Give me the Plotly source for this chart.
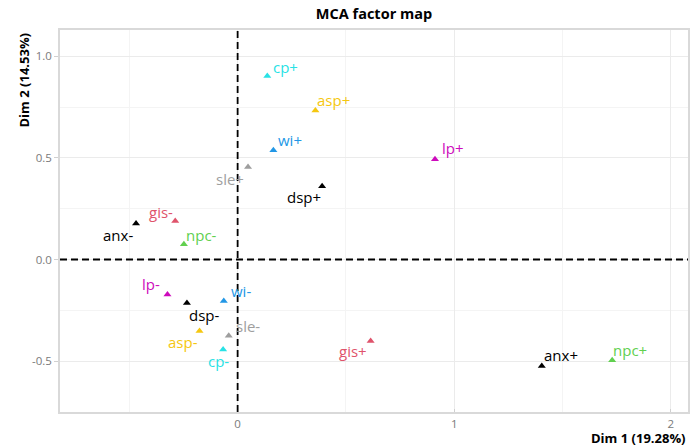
import plotly.graph_objects as go

# ---- data ----
categories = ["anx-", "anx+", "gis-", "gis+", "npc-", "npc+", "wi-", "wi+",
              "cp-", "cp+", "lp-", "lp+", "asp-", "asp+", "sle-", "sle+",
              "dsp-", "dsp+"]
dim1 = [-0.469, 1.404, -0.288, 0.614, -0.248, 1.729, -0.064, 0.165,
        -0.067, 0.137, -0.324, 0.911, -0.176, 0.359, -0.041, 0.048,
        -0.234, 0.390]
dim2 = [0.177, -0.524, 0.189, -0.401, 0.075, -0.496, -0.205, 0.538,
        -0.443, 0.903, -0.172, 0.494, -0.352, 0.734, -0.376, 0.456,
        -0.214, 0.361]
variables = ["anx", "anx", "gis", "gis", "npc", "npc", "wi", "wi",
             "cp", "cp", "lp", "lp", "asp", "asp", "sle", "sle",
             "dsp", "dsp"]
x_ticks = [0, 1, 2]
x_tick_labels = ["0", "1", "2"]
y_ticks = [-0.5, 0.0, 0.5, 1.0]
y_tick_labels = ["-0.5", "0.0", "0.5", "1.0"]
title = "MCA factor map"
x_title = "Dim 1 (19.28%)"
y_title = "Dim 2 (14.53%)"

# ---- styles ----
var_colors = {
    "anx": "#000000", "gis": "#DF536B", "npc": "#61D04F", "wi": "#2297E6",
    "cp": "#28E2E5", "lp": "#CD0BBC", "asp": "#F5C710", "sle": "#9E9E9E",
    "dsp": "#000000",
}
# pixel offsets of each label from its point (dx right, dy up)
label_offsets = [(-18, -11), (19, 11), (-14, 9), (-18, -10), (18, 9), (18, 10),
                 (17, 10), (17, 10), (-5, -12), (18, 9), (-16, 10), (18, 11),
                 (-17, -11), (18, 10), (19, 10), (-18, -12), (18, -12), (-18, -11)]
FONT = "Open Sans"

colors = [var_colors[v] for v in variables]

fig = go.Figure()
fig.add_trace(go.Scatter(
    x=dim1, y=dim2, mode="markers",
    marker=dict(symbol="triangle-up", size=7, color=colors, line=dict(width=0)),
    hoverinfo="text", text=categories, showlegend=False,
))

for name, xv, yv, c, (dx, dy) in zip(categories, dim1, dim2, colors, label_offsets):
    fig.add_annotation(x=xv, y=yv, xref="x", yref="y", text=name, showarrow=False,
                       xshift=dx, yshift=dy, xanchor="center", yanchor="middle",
                       font=dict(family=FONT, size=15, color=c))

# reference lines at 0
fig.add_shape(type="line", xref="x", yref="paper", x0=0, x1=0, y0=0, y1=1,
              line=dict(color="black", width=1.8, dash="7px,4px"), layer="above")
fig.add_shape(type="line", xref="paper", yref="y", x0=0, x1=1, y0=0, y1=0,
              line=dict(color="black", width=1.8, dash="7px,4px"), layer="above")

# axis titles
fig.add_annotation(text="<b>" + x_title + "</b>", xref="paper", yref="paper",
                   x=1, y=0, xanchor="right", yanchor="middle", yshift=-26,
                   showarrow=False, font=dict(family=FONT, size=13, color="black"))
fig.add_annotation(text="<b>" + y_title + "</b>", xref="paper", yref="paper",
                   x=0, y=1, xanchor="center", yanchor="top", xshift=-37, yshift=-1,
                   textangle=-90, showarrow=False,
                   font=dict(family=FONT, size=13, color="black"))

axis_common = dict(showgrid=True, gridcolor="#EBEBEB", gridwidth=1,
                   zeroline=False, showline=True, linecolor="#D9D9D9", linewidth=1.5,
                   mirror=True, tickwidth=1, tickcolor="#D0D0D0",
                   tickfont=dict(family=FONT, size=11.5, color="#7A7A7A"))

fig.update_layout(
    width=699, height=447,
    margin=dict(l=60, r=9, t=30, b=35),
    paper_bgcolor="white", plot_bgcolor="white",
    title=dict(text="<b>" + title + "</b>", x=0.5, xref="paper", xanchor="center",
               y=1 - 14 / 447, yref="container", yanchor="middle",
               font=dict(family=FONT, size=14.5, color="black")),
    xaxis=dict(range=[-0.82, 2.079], tickvals=x_ticks, ticktext=x_tick_labels,
               ticks="inside", ticklen=3,
               minor=dict(tickvals=[-0.5, 0.5, 1.5], showgrid=True,
                          gridcolor="#F4F4F4", gridwidth=1, ticks=""),
               **axis_common),
    yaxis=dict(range=[-0.751, 1.130], tickvals=y_ticks, ticktext=y_tick_labels,
               ticks="outside", ticklen=4,
               minor=dict(tickvals=[-0.25, 0.25, 0.75], showgrid=True,
                          gridcolor="#F4F4F4", gridwidth=1, ticks=""),
               **axis_common),
)

fig.write_html("out.html")
